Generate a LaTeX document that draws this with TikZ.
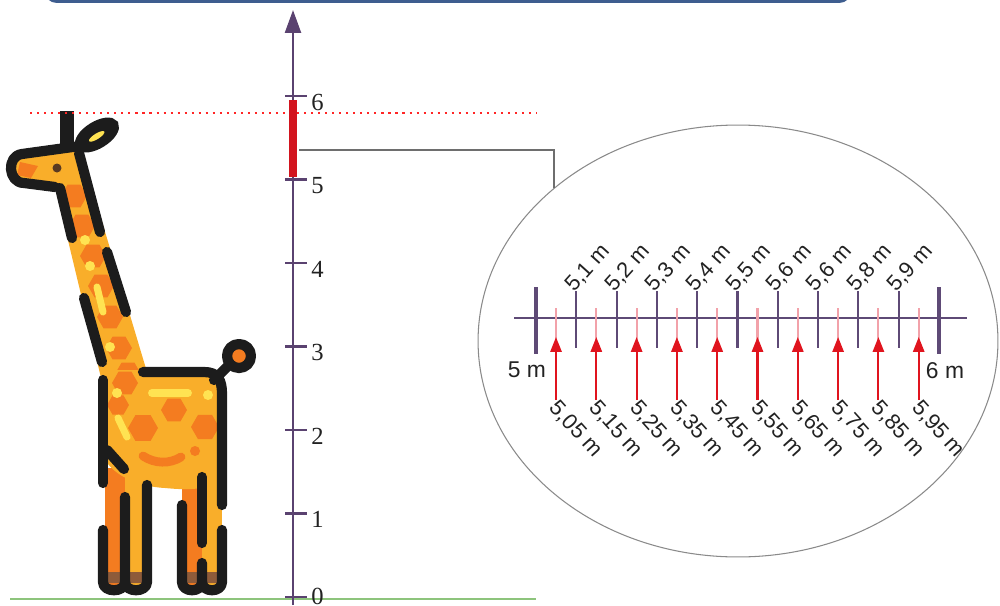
\documentclass[tikz,border=0pt]{standalone}
\usepackage{fontspec}
\setmainfont{Liberation Serif}
\newfontfamily\sansfont{Liberation Sans}
\usetikzlibrary{arrows.meta,shapes.geometric,positioning}

\definecolor{axispurple}{HTML}{5A4270}
\definecolor{tickpurple}{HTML}{5E4A76}
\definecolor{redbar}{HTML}{D2141E}
\definecolor{redarrow}{HTML}{E0141E}
\definecolor{pinktick}{HTML}{F2A2AA}
\definecolor{lensgray}{HTML}{8A8A8A}
\definecolor{linkgray}{HTML}{6E6E6E}
\definecolor{ground}{HTML}{8DC47C}
\definecolor{boxblue}{HTML}{3E5D8F}
\definecolor{labtext}{HTML}{222222}
\definecolor{gbody}{HTML}{F9AE2A}
\definecolor{gspot}{HTML}{F47C20}
\definecolor{glight}{HTML}{FFE352}
\definecolor{gline}{HTML}{1C1C1C}
\definecolor{ghoof}{HTML}{8E5B3A}
\definecolor{geye}{HTML}{5A3A22}

\newcommand{\hexspot}[2]{\fill[gspot] (#1) +(0:#2) -- +(60:#2) -- +(120:#2) -- +(180:#2) -- +(240:#2) -- +(300:#2) -- cycle;}

\begin{document}
\begin{tikzpicture}[x=0.02cm,y=-0.02cm,
    gstroke/.style={draw=gline,line width=5.8pt,line cap=round,line join=round},
    axistick/.style={axispurple,line width=1.4pt},
    ruler/.style={tickpurple,line width=1.2pt},
    halfmark/.style={pinktick,line width=1.2pt},
    halfarrow/.style={redarrow,line width=1.2pt,-{Triangle[width=6.4pt,length=8.5pt]}},
    axislab/.style={anchor=west,inner sep=0pt,font=\fontsize{14}{16}\selectfont,text=labtext},
    endlab/.style={inner sep=0pt,font=\sansfont\fontsize{13}{15}\selectfont,text=labtext},
    toplab/.style={rotate=48,anchor=south west,inner sep=0pt,font=\sansfont\fontsize{12.5}{14}\selectfont,text=labtext},
    botlab/.style={rotate=-48,anchor=west,inner sep=0pt,font=\sansfont\fontsize{12.5}{14}\selectfont,text=labtext}]
  \path[clip,use as bounding box] (0,0) rectangle (1000,605);

  % frame of the title box
  \draw[boxblue,line width=1.6pt,rounded corners=6] (46,-20) -- (46,1.5) -- (850,1.5) -- (850,-20);

  % giraffe: legs
  \fill[gspot] (105,468) rectangle (125,586);
  \fill[gbody] (125,468) rectangle (147,586);
  \fill[gspot] (182,468) rectangle (202,586);
  \fill[gbody] (202,468) rectangle (222,586);
  \fill[ghoof] (107,572) rectangle (121,583) (128,572) rectangle (144,583)
               (184,572) rectangle (199,583) (205,572) rectangle (220,583);
  % neck with its patches
  \begin{scope}
    \clip (54,182) -- (80,148) -- (147,372) -- (102,382) -- cycle;
    \fill[gbody] (40,140) rectangle (160,390);
    \hexspot{74,196}{13}
    \hexspot{82,226}{13}
    \hexspot{93,256}{13}
    \hexspot{101,286}{13}
    \hexspot{110,317}{13}
    \hexspot{119,348}{13}
    \hexspot{128,374}{13}
  \end{scope}
  \fill[glight] (85,240) circle [radius=5] (90,266) circle [radius=5] (110,347) circle [radius=5];
  \draw[glight,line width=4pt,line cap=round] (97,287) -- (103,312);
  % body
  \fill[gbody] (103,370) -- (205,370) .. controls (222,370) and (222,380) .. (222,392) -- (222,470)
    .. controls (222,492) and (185,490) .. (165,488) .. controls (130,486) and (108,470) .. (103,455) -- cycle;
  \hexspot{125,383}{13}
  \hexspot{118,405}{11}
  \hexspot{143,428}{15}
  \hexspot{174,410}{13}
  \hexspot{205,427}{14}
  \draw[glight,line width=4.5pt,line cap=round] (152,393) -- (188,393);
  \fill[glight] (117,393) circle [radius=5] (208,395) circle [radius=5];
  \draw[glight,line width=4pt,line cap=round] (118,418) -- (127,437);
  \draw[gspot,line width=5pt,line cap=round] (143,456) .. controls (155,464) and (170,464) .. (181,457);
  \fill[gspot] (195,451) circle [radius=5];
  % head, ear and horn
  \fill[gbody] (20,154) -- (78,142) -- (86,160) -- (62,190) -- (24,183) .. controls (6,182) and (6,155) .. (20,154) -- cycle;
  \fill[gspot] (20,162) -- (38,166) -- (31,178) -- (17,175) -- cycle;
  \draw[gline,line width=8.5pt] (67,149) -- (67,111);
  \filldraw[gline,line width=5pt,rotate around={32:(97,135)}] (97,135) ellipse [x radius=20,y radius=9];
  \fill[glight,rotate around={32:(97,135)}] (96,136) ellipse [x radius=9,y radius=2.8];
  \fill[geye] (57,168) circle [radius=4.5];
  % black outline
  \draw[gstroke] (80,146) -- (22,154) .. controls (6,156) and (8,183) .. (24,183) -- (55,187);
  \draw[gstroke] (79,153) -- (100,232);
  \draw[gstroke] (60,188) -- (72,238);
  \draw[gstroke] (107,252) -- (126,312);
  \draw[gstroke] (84,298) -- (102,362);
  \draw[gstroke] (143,372) -- (204,372) .. controls (218,372) and (222,380) .. (222,394) -- (222,505);
  \draw[gstroke] (214,380) -- (228,366);
  \draw[gstroke,fill=gspot] (239,356) circle [radius=12];
  \draw[gstroke] (103,380) -- (103,483);
  \draw[gstroke] (107,450) -- (124,469);
  \draw[gstroke] (103,530) -- (103,582) .. controls (103,593) and (125,593) .. (125,582) -- (125,497);
  \draw[gstroke] (125,582) .. controls (125,593) and (147,593) .. (147,582) -- (147,485);
  \draw[gstroke] (182,505) -- (182,582) .. controls (182,593) and (202,593) .. (202,582) -- (202,563);
  \draw[gstroke] (202,582) .. controls (202,593) and (222,593) .. (222,582) -- (222,530);
  \draw[gstroke] (202,477) -- (202,543);

  % ground and height line
  \draw[ground,line width=1.5pt] (10,599) -- (536,599);
  \draw[red!85!white,line width=1pt,dash pattern=on 1.2pt off 2.8pt] (30,113) -- (537,113);

  % vertical axis in metres
  \draw[axispurple,line width=1.5pt,-{Triangle[width=9pt,length=13pt]}] (293,605) -- (293,10);
  \foreach \k in {0,...,6}{
    \draw[axistick] (285,597-83.5*\k) -- (307,597-83.5*\k);
    \node[axislab] (n\k) at (311,{min(596,603-83.5*\k)}) {\k};
  }
  \draw[redbar,line width=4.5pt] (293,100) -- (293,177);

  % magnifier between 5 and 6
  \node[ellipse,draw=lensgray,line width=0.6pt,minimum width=10.4cm,minimum height=8.64cm,inner sep=0pt] (lens) at (738,341) {};
  \coordinate (zoomfrom) at (299,150);
  \draw[linkgray,line width=1.4pt] (zoomfrom) -| (lens.north west);

  \draw[ruler,line width=1.3pt] (514,318) -- (967,318);
  \draw[ruler,line width=2pt] (536,287) -- (536,354);
  \draw[ruler,line width=2pt] (939,287) -- (939,354);
  \node[endlab] (m5) at (527,370) {5 m};
  \node[endlab] (m6) at (945,371) {6 m};
  \foreach \d [count=\i] in {1,2,3,4,5,6,6,8,9}{
    \draw[ruler] (536+40.3*\i,291) -- (536+40.3*\i,348);
    \node[toplab] (t\i) at (536+40.3*\i,295) {5,\d{} m};
  }
  \foreach \d [count=\i from 0] in {05,15,25,35,45,55,65,75,85,95}{
    \coordinate (hb\i) at (556+40.3*\i,400);
    \coordinate (ht\i) at (556+40.3*\i,337);
    \draw[halfmark] (556+40.3*\i,308) -- (556+40.3*\i,345);
    \draw[halfarrow] (hb\i) -- (ht\i);
    \node[botlab] (b\i) at (553+40.3*\i,404) {5,\d{} m};
  }
\end{tikzpicture}
\end{document}
